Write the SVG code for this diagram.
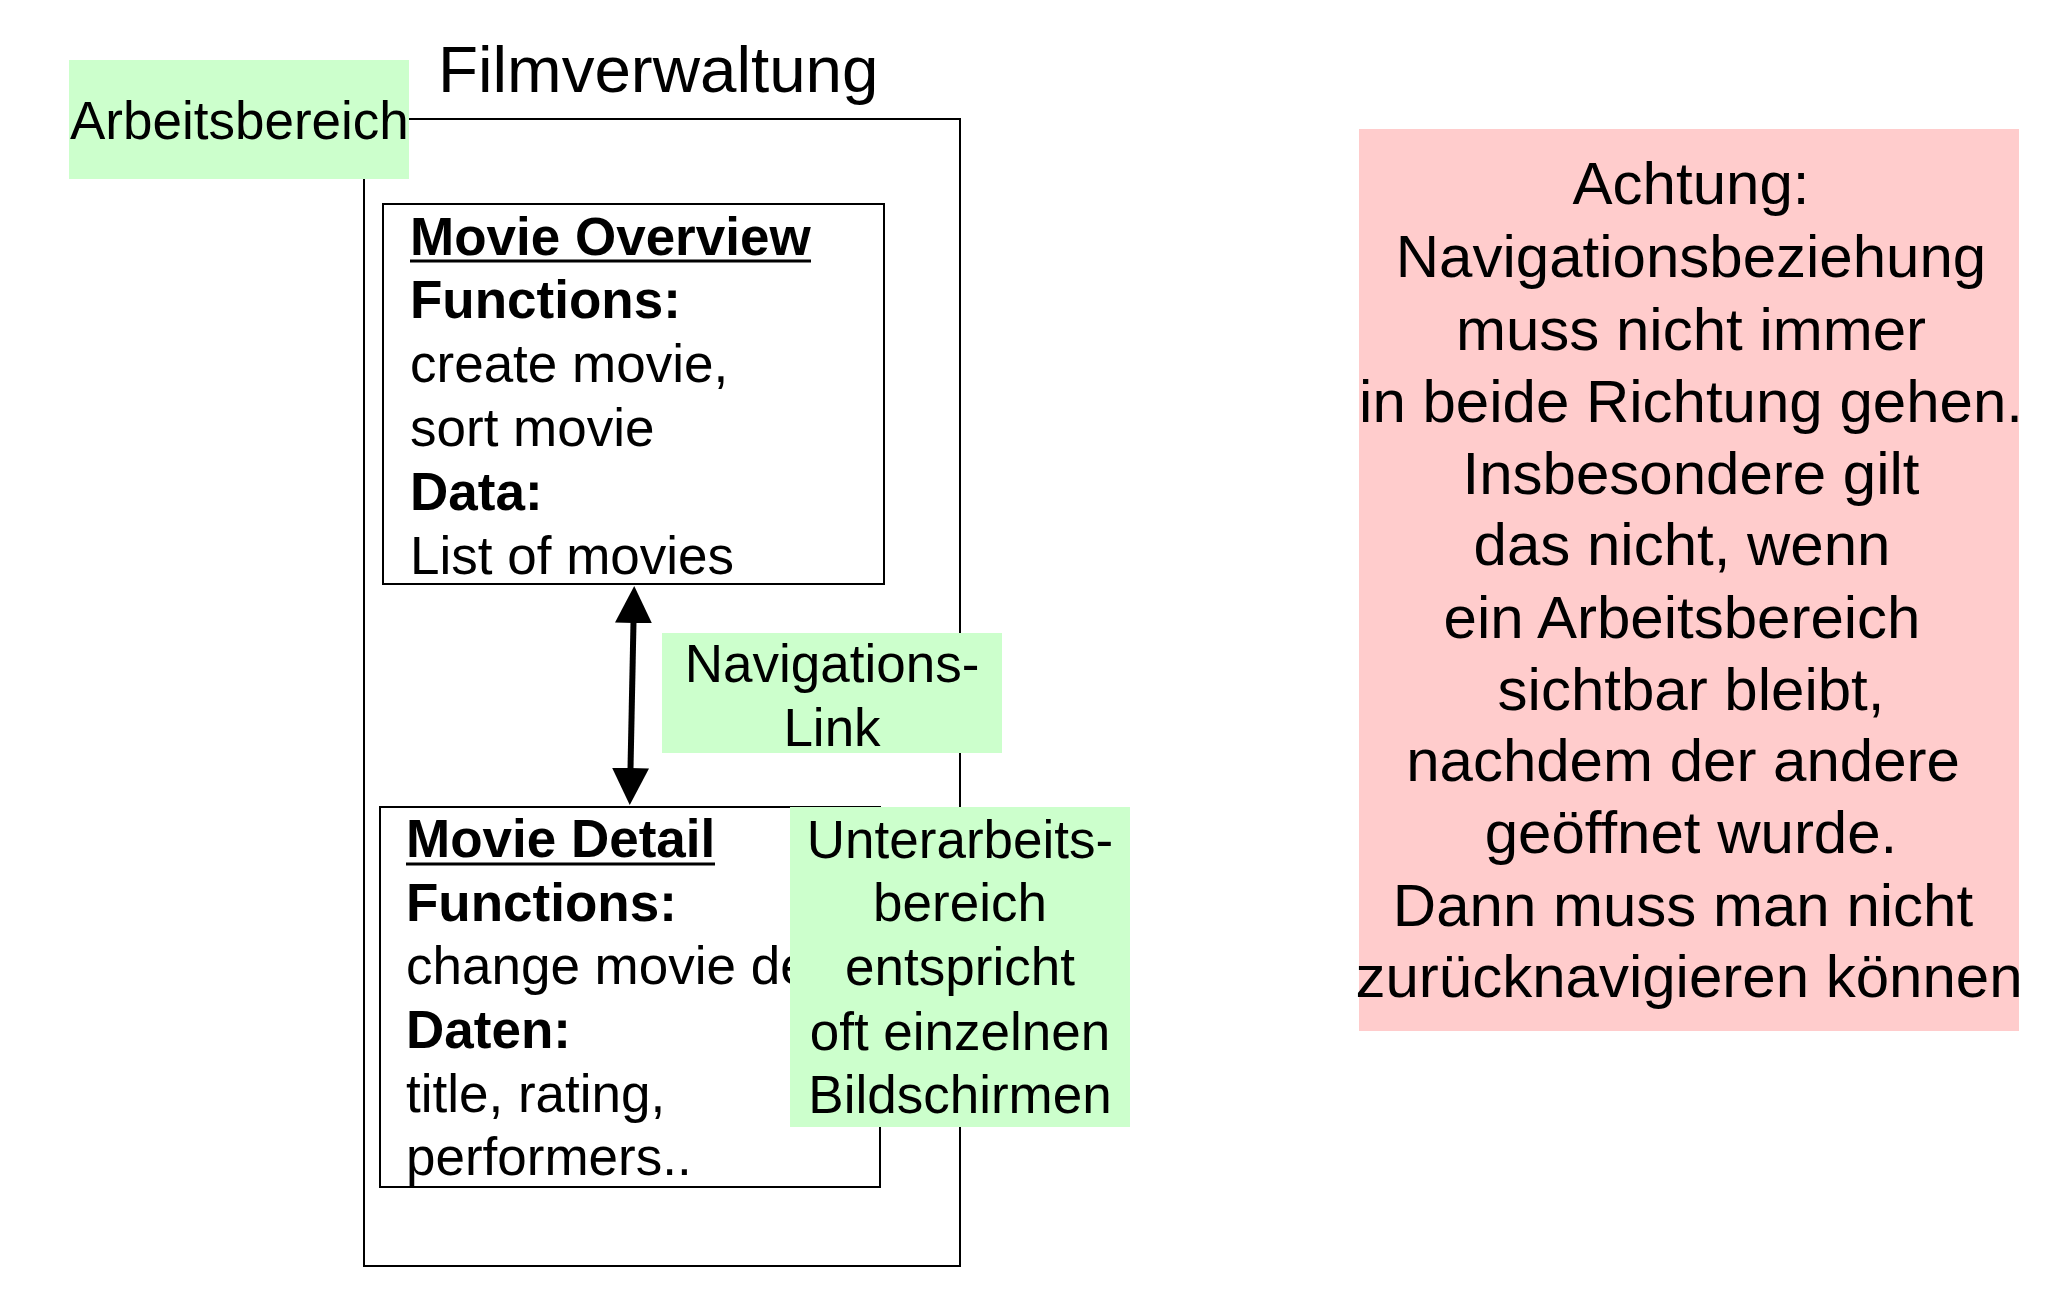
<svg xmlns="http://www.w3.org/2000/svg" width="2065" height="1301" viewBox="0 0 2065 1301">
<style>
text{font-family:"Liberation Sans",Arial,sans-serif;fill:#000}
.f53{font-size:53px}
.f65{font-size:65.5px}
.f60{font-size:60px}
.b{font-weight:bold}
.box{fill:#fff;stroke:#000;stroke-width:2}
.green{fill:#ccffcc}
.red{fill:#ffcccc}
.c{text-anchor:middle}
.ul{stroke:#000;stroke-width:3}
</style>
<defs>
<marker id="ah" viewBox="0 0 37 37" markerUnits="userSpaceOnUse" markerWidth="37" markerHeight="37" refX="1" refY="18.5" orient="auto-start-reverse">
<path d="M0,0 L37,18.5 L0,37 z" fill="#000"/>
</marker>
</defs>
<rect width="2065" height="1301" fill="#fff"/>

<g id="filmverwaltung">
<rect x="364" y="119" width="596" height="1147" fill="none" stroke="#000" stroke-width="2"/>
<text class="f65" x="438" y="92">Filmverwaltung</text>
</g>

<g id="movie-overview">
<rect class="box" x="383" y="204" width="501" height="380"/>
<text class="f53 b" x="410" y="255">Movie Overview</text>
<line class="ul" x1="410" y1="261" x2="811" y2="261"/>
<text class="f53 b" x="410" y="318">Functions:</text>
<text class="f53" x="410" y="382">create movie,</text>
<text class="f53" x="410" y="446">sort movie</text>
<text class="f53 b" x="410" y="510">Data:</text>
<text class="f53" x="410" y="574">List of movies</text>
</g>

<g id="movie-detail">
<rect class="box" x="380" y="807" width="500" height="380"/>
<text class="f53 b" x="406" y="857">Movie Detail</text>
<line class="ul" x1="406" y1="864" x2="715" y2="864"/>
<text class="f53 b" x="406" y="921">Functions:</text>
<text class="f53" x="406" y="984">change movie de</text>
<text class="f53 b" x="406" y="1048">Daten:</text>
<text class="f53" x="406" y="1112">title, rating,</text>
<text class="f53" x="406" y="1175">performers..</text>
</g>

<g id="connectors">
<line x1="633.5" y1="622" x2="630.5" y2="769" stroke="#000" stroke-width="6" marker-start="url(#ah)" marker-end="url(#ah)"/>
</g>

<g id="label-arbeitsbereich">
<rect class="green" x="69" y="60" width="340" height="119"/>
<text class="f53" x="70" y="139">Arbeitsbereich</text>
</g>

<g id="label-navigationslink">
<rect class="green" x="662" y="633" width="340" height="120"/>
<text class="f53 c" x="832" y="682">Navigations-</text>
<text class="f53 c" x="832" y="746">Link</text>
</g>

<g id="label-unterarbeitsbereich">
<rect class="green" x="790" y="807" width="340" height="320"/>
<text class="f53 c" x="960" y="858">Unterarbeits-</text>
<text class="f53 c" x="960" y="921">bereich</text>
<text class="f53 c" x="960" y="985">entspricht</text>
<text class="f53 c" x="960" y="1050">oft einzelnen</text>
<text class="f53 c" x="960" y="1113">Bildschirmen</text>
</g>

<g id="note-achtung">
<rect class="red" x="1359" y="129" width="660" height="902"/>
<text class="f60 c" x="1691" y="204">Achtung:</text>
<text class="f60 c" x="1691" y="277">Navigationsbeziehung</text>
<text class="f60 c" x="1691" y="350">muss nicht immer</text>
<text class="f60 c" x="1691" y="422">in beide Richtung gehen.</text>
<text class="f60 c" x="1691" y="494">Insbesondere gilt</text>
<text class="f60 c" x="1682" y="565">das nicht, wenn</text>
<text class="f60 c" x="1682" y="638">ein Arbeitsbereich</text>
<text class="f60 c" x="1691" y="710">sichtbar bleibt,</text>
<text class="f60 c" x="1683" y="781">nachdem der andere</text>
<text class="f60 c" x="1691" y="853">geöffnet wurde.</text>
<text class="f60 c" x="1683" y="926">Dann muss man nicht</text>
<text class="f60 c" x="1689" y="997">zurücknavigieren können</text>
</g>
</svg>
